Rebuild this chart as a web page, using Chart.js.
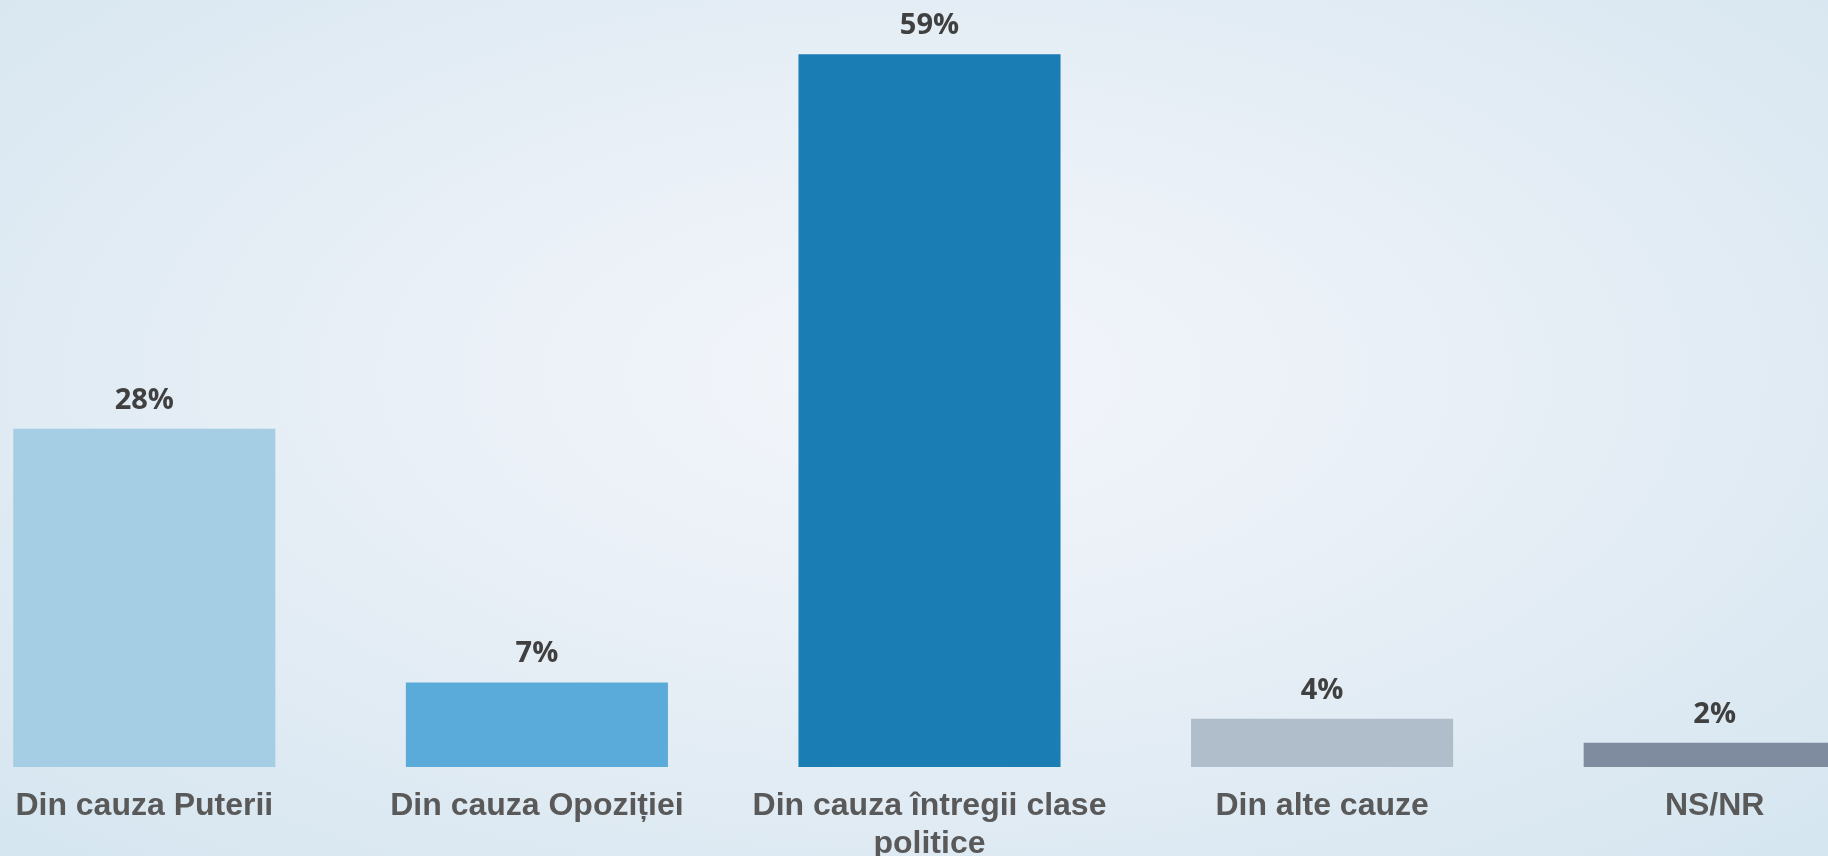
<!DOCTYPE html>
<html>
<head>
<meta charset="utf-8">
<script src="https://cdn.jsdelivr.net/npm/chart.js@4/dist/chart.umd.min.js"></script>
<style>
    html, body {
        margin: 0;
        padding: 0;
        width: 1828px;
        height: 856px;
        overflow: hidden;
    }
    body {
        background: radial-gradient(ellipse 70% 75% at 50% 44%, #f3f6fb 0%, #e8eff6 45%, #d6e6f0 100%);
    }
    /* the plot runs past both edges of the picture, like the original slide */
    #wrap {
        position: absolute;
        left: -52px;
        top: 0;
        width: 1963px;
        height: 856px;
    }
</style>
</head>
<body>
<div id="wrap"><canvas id="chart"></canvas></div>
<script>
const categories = [
    'Din cauza Puterii',
    'Din cauza Opoziției',
    ['Din cauza întregii clase', 'politice'],
    'Din alte cauze',
    'NS/NR'
];
const values = [28, 7, 59, 4, 2];
const barColors = ['#a5cde3', '#5aabd9', '#1a7db3', '#b0bdca', '#7f8b9e'];

// value labels above each bar
const valueLabels = {
    id: 'valueLabels',
    afterDatasetsDraw(chart) {
        const ctx = chart.ctx;
        const meta = chart.getDatasetMeta(0);
        ctx.save();
        ctx.font = 'bold 29px "Open Sans"';
        ctx.fillStyle = '#404040';
        ctx.textAlign = 'center';
        ctx.textBaseline = 'alphabetic';
        meta.data.forEach((bar, i) => {
            ctx.fillText(values[i] + '%', bar.x, bar.y - 20);
        });
        ctx.restore();
    }
};

ready(function(){
    new Chart(document.getElementById('chart'), {
        type: 'bar',
        data: {
            labels: categories,
            datasets: [{
                data: values,
                backgroundColor: barColors,
                borderWidth: 0,
                barPercentage: 1,
                categoryPercentage: 0.6675
            }]
        },
        options: {
            responsive: true,
            maintainAspectRatio: false,
            animation: false,
            layout: { padding: 0 },
            plugins: {
                legend: { display: false },
                tooltip: { enabled: false }
            },
            scales: {
                x: {
                    grid: { display: false, drawTicks: false },
                    border: { display: false },
                    ticks: {
                        color: '#595959',
                        font: { family: '"Liberation Sans", Arial', size: 32, weight: 'bold', lineHeight: 1.16 },
                        padding: 21,
                        maxRotation: 0,
                        autoSkip: false
                    },
                    afterFit(scale) {
                        scale.height = 89;
                    }
                },
                y: {
                    display: false,
                    min: 0,
                    max: 63.5
                }
            }
        },
        plugins: [valueLabels]
    });
});

function ready(fn) {
    if (document.readyState !== 'loading') {
        fn();
    } else {
        document.addEventListener('DOMContentLoaded', fn);
    }
}
</script>
</body>
</html>
